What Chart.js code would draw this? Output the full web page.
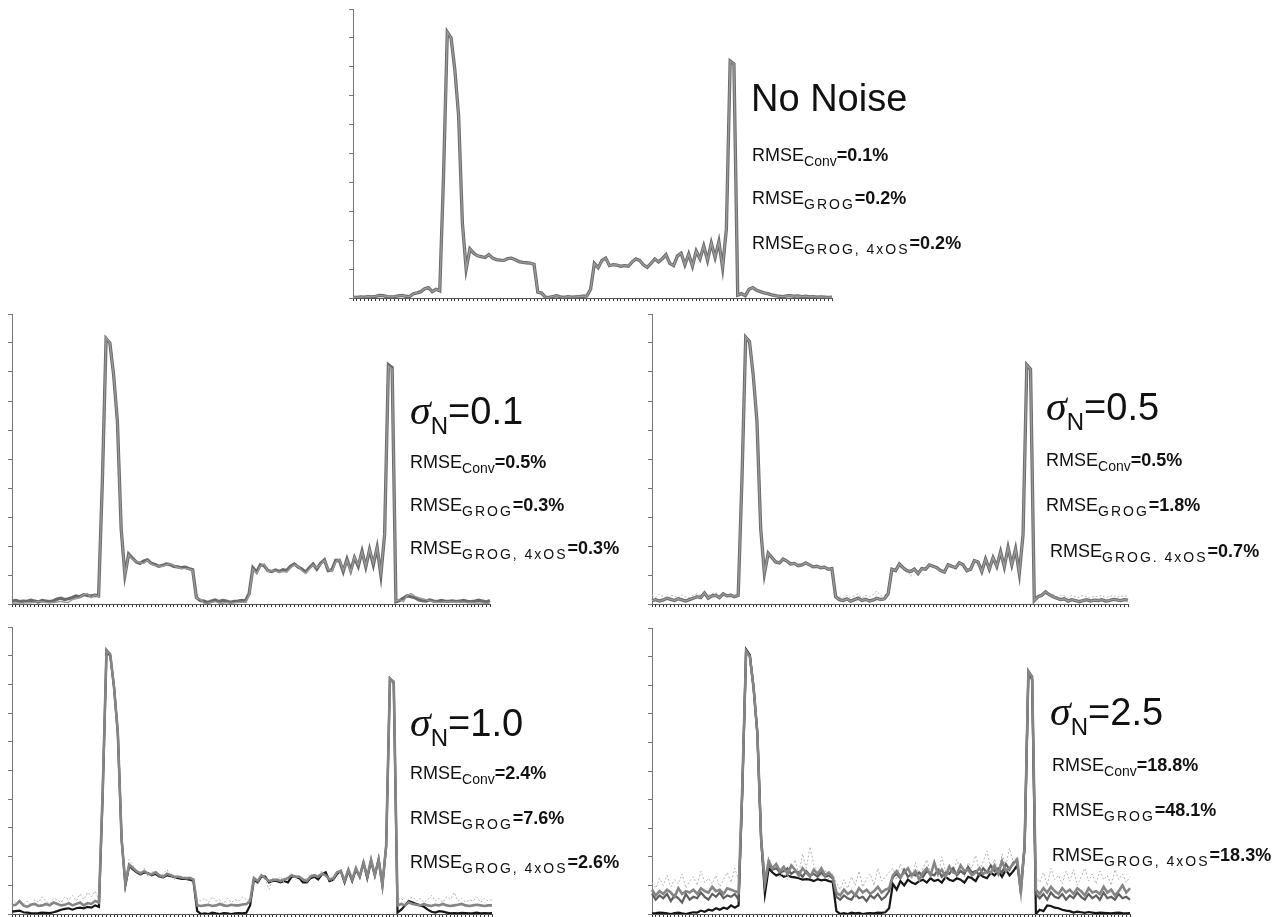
<!DOCTYPE html>
<html>
<head>
<meta charset="utf-8">
<script src="https://cdn.jsdelivr.net/npm/chart.js@4.4.1/dist/chart.umd.min.js"></script>
<style>
  body { margin: 0; background: #fff; width: 1283px; height: 917px; position: relative; overflow: hidden;
         font-family: "Liberation Sans", Arial, sans-serif; color: #111; }
  canvas { position: absolute; }
  .big { position: absolute; font-size: 38px; line-height: 1; white-space: nowrap; }
  .rm { position: absolute; font-size: 18px; line-height: 1; white-space: nowrap; }
  .rm b { font-weight: bold; }
  .sub { font-size: 14px; position: relative; top: 5px; }
  .sp { letter-spacing: 2px; }
  .sig { font-family: "Liberation Serif", serif; font-style: italic; font-size: 42px; }
  .nsub { font-size: 24px; position: relative; top: 10px; }
</style>
</head>
<body>

<canvas id="cNo"  width="485" height="293" style="left:349px;top:8px"></canvas>
<canvas id="c01"  width="484" height="294" style="left:8px;top:313px"></canvas>
<canvas id="c05"  width="482" height="294" style="left:648px;top:313px"></canvas>
<canvas id="c10"  width="486" height="291" style="left:8px;top:626px"></canvas>
<canvas id="c25"  width="484" height="290" style="left:648px;top:627px"></canvas>

<div class="big" style="left:751px;top:79px">No Noise</div>
<div class="rm" style="left:752px;top:146px">RMSE<span class="sub">Conv</span><b>=0.1%</b></div>
<div class="rm" style="left:752px;top:189px">RMSE<span class="sub sp">GROG</span><b>=0.2%</b></div>
<div class="rm" style="left:752px;top:234px">RMSE<span class="sub sp">GROG, 4xOS</span><b>=0.2%</b></div>

<div class="big" style="left:410px;top:389px"><span class="sig">σ</span><span class="nsub">N</span>=0.1</div>
<div class="rm" style="left:410px;top:453px">RMSE<span class="sub">Conv</span><b>=0.5%</b></div>
<div class="rm" style="left:410px;top:496px">RMSE<span class="sub sp">GROG</span><b>=0.3%</b></div>
<div class="rm" style="left:410px;top:539px">RMSE<span class="sub sp">GROG, 4xOS</span><b>=0.3%</b></div>

<div class="big" style="left:1046px;top:385px"><span class="sig">σ</span><span class="nsub">N</span>=0.5</div>
<div class="rm" style="left:1046px;top:451px">RMSE<span class="sub">Conv</span><b>=0.5%</b></div>
<div class="rm" style="left:1046px;top:496px">RMSE<span class="sub sp">GROG</span><b>=1.8%</b></div>
<div class="rm" style="left:1050px;top:542px">RMSE<span class="sub sp">GROG. 4xOS</span><b>=0.7%</b></div>

<div class="big" style="left:410px;top:701px"><span class="sig">σ</span><span class="nsub">N</span>=1.0</div>
<div class="rm" style="left:410px;top:764px">RMSE<span class="sub">Conv</span><b>=2.4%</b></div>
<div class="rm" style="left:410px;top:809px">RMSE<span class="sub sp">GROG</span><b>=7.6%</b></div>
<div class="rm" style="left:410px;top:853px">RMSE<span class="sub sp">GROG, 4xOS</span><b>=2.6%</b></div>

<div class="big" style="left:1050px;top:690px"><span class="sig">σ</span><span class="nsub">N</span>=2.5</div>
<div class="rm" style="left:1052px;top:756px">RMSE<span class="sub">Conv</span><b>=18.8%</b></div>
<div class="rm" style="left:1052px;top:801px">RMSE<span class="sub sp">GROG</span><b>=48.1%</b></div>
<div class="rm" style="left:1052px;top:846px">RMSE<span class="sub sp">GROG, 4xOS</span><b>=18.3%</b></div>

<script>
// perfiles de intensidad (128 muestras, eje y 0..10)
const truth = [
  0.03,0.02,0.04,0.03,0.05,0.04,0.06,0.09,0.08,0.05,0.04,0.05,0.07,0.09,0.06,0.05,
  0.15,0.18,0.22,0.32,0.36,0.22,0.30,0.25,4.2,9.2,9.0,7.9,6.3,2.6,1.0,1.7,
  1.55,1.46,1.43,1.40,1.50,1.38,1.33,1.31,1.30,1.36,1.38,1.32,1.26,1.23,1.22,1.21,
  1.16,0.20,0.17,0.03,0.02,0.05,0.08,0.04,0.02,0.05,0.03,0.04,0.05,0.06,0.07,0.30,
  1.20,1.05,1.30,1.38,1.12,1.15,1.14,1.10,1.12,1.10,1.25,1.35,1.30,1.15,1.06,1.20,
  1.35,1.25,1.36,1.50,1.20,1.12,1.45,1.55,1.15,1.52,1.10,1.62,1.35,1.80,1.30,1.90,
  1.40,1.95,1.05,2.40,8.2,8.1,0.10,0.15,0.08,0.30,0.36,0.27,0.22,0.18,0.15,0.11,
  0.08,0.06,0.05,0.07,0.08,0.06,0.07,0.05,0.06,0.04,0.05,0.03,0.04,0.03,0.02,0.03
];

const s01 = [
  0.10,0.12,0.08,0.10,0.09,0.13,0.10,0.07,0.12,0.10,0.08,0.11,0.17,0.20,0.15,0.18,
  0.22,0.28,0.25,0.32,0.30,0.27,0.30,0.28,4.2,9.15,9.0,7.9,6.3,2.6,1.0,1.72,
  1.58,1.45,1.40,1.48,1.52,1.40,1.36,1.30,1.33,1.38,1.36,1.30,1.28,1.25,1.27,1.22,
  1.18,0.22,0.12,0.10,0.05,0.10,0.14,0.08,0.12,0.10,0.06,0.09,0.10,0.12,0.10,0.35,
  1.25,1.10,1.35,1.32,1.15,1.12,1.17,1.12,1.18,1.15,1.30,1.38,1.28,1.20,1.10,1.25,
  1.38,1.20,1.40,1.52,1.15,1.18,1.50,1.50,1.12,1.55,1.15,1.60,1.30,1.82,1.28,1.88,
  1.35,1.95,1.00,2.40,8.25,8.15,0.08,0.12,0.20,0.28,0.25,0.22,0.15,0.12,0.10,0.14,
  0.10,0.08,0.12,0.10,0.09,0.11,0.08,0.10,0.12,0.09,0.08,0.10,0.13,0.10,0.07,0.12
];

const s05Conv = [
  0.12,0.15,0.10,0.14,0.20,0.16,0.12,0.18,0.14,0.10,0.15,0.20,0.25,0.22,0.38,0.20,
  0.28,0.30,0.22,0.35,0.28,0.30,0.25,0.30,4.3,9.2,9.05,7.9,6.3,2.6,1.05,1.75,
  1.60,1.45,1.42,1.55,1.48,1.38,1.40,1.32,1.35,1.42,1.35,1.28,1.30,1.25,1.27,1.20,
  1.22,0.25,0.15,0.12,0.18,0.10,0.15,0.20,0.12,0.16,0.10,0.14,0.20,0.15,0.18,0.35,
  1.20,1.15,1.38,1.25,1.15,1.12,1.20,1.05,1.22,1.20,1.35,1.30,1.25,1.15,1.10,1.35,
  1.30,1.25,1.42,1.35,1.15,1.20,1.50,1.45,1.12,1.55,1.20,1.60,1.30,1.80,1.28,1.95,
  1.35,1.90,1.05,2.40,8.25,8.1,0.12,0.25,0.30,0.42,0.32,0.25,0.20,0.15,0.18,0.10,
  0.15,0.12,0.08,0.12,0.15,0.10,0.13,0.12,0.15,0.10,0.12,0.16,0.14,0.12,0.15,0.13
];

const s05Grog = [
  0.30,0.22,0.35,0.25,0.18,0.30,0.28,0.20,0.32,0.25,0.22,0.30,0.35,0.30,0.42,0.30,
  0.35,0.40,0.30,0.38,0.32,0.35,0.30,0.35,4.3,9.1,9.0,7.9,6.3,2.6,1.1,1.7,
  1.55,1.50,1.38,1.50,1.45,1.35,1.42,1.30,1.32,1.40,1.38,1.25,1.32,1.22,1.30,1.18,
  1.25,0.35,0.25,0.20,0.30,0.22,0.28,0.35,0.20,0.30,0.25,0.32,0.45,0.28,0.30,0.40,
  1.15,1.20,1.30,1.22,1.20,0.95,1.25,1.10,1.20,1.25,1.30,1.32,1.20,1.18,1.15,1.30,
  1.25,1.30,1.35,1.40,1.20,1.25,1.45,1.40,1.20,1.50,1.25,1.55,1.35,1.75,1.30,1.90,
  1.40,1.85,1.10,2.35,8.2,8.0,0.20,0.30,0.35,0.40,0.30,0.35,0.25,0.30,0.28,0.20,
  0.30,0.25,0.22,0.30,0.25,0.20,0.28,0.25,0.30,0.22,0.25,0.30,0.22,0.28,0.25,0.30
];

const s10Gray = [
  0.30,0.32,0.45,0.30,0.25,0.32,0.35,0.28,0.30,0.35,0.30,0.40,0.35,0.30,0.32,0.38,
  0.30,0.35,0.40,0.30,0.38,0.35,0.45,0.40,4.3,9.2,9.05,7.9,6.3,2.6,1.05,1.72,
  1.60,1.48,1.42,1.50,1.40,1.38,1.45,1.35,1.30,1.40,1.35,1.30,1.30,1.26,1.25,1.25,
  1.20,0.30,0.28,0.30,0.32,0.28,0.30,0.35,0.30,0.28,0.32,0.30,0.30,0.33,0.35,0.45,
  1.25,1.15,1.35,1.25,1.15,1.18,1.20,1.15,1.20,1.25,1.35,1.30,1.30,1.20,1.15,1.30,
  1.35,1.30,1.40,1.35,1.20,1.25,1.45,1.50,1.15,1.55,1.20,1.60,1.30,1.80,1.30,1.90,
  1.35,1.90,1.00,2.40,8.2,8.1,0.30,0.35,0.30,0.40,0.35,0.32,0.30,0.35,0.30,0.28,
  0.32,0.30,0.35,0.30,0.28,0.30,0.32,0.35,0.30,0.28,0.30,0.32,0.30,0.28,0.30,0.30
];

const s10Black = [
  0.08,0.10,0.12,0.06,0.05,0.03,0.02,0.03,0.05,0.04,0.03,0.06,0.10,0.15,0.18,0.20,
  0.15,0.20,0.22,0.20,0.25,0.22,0.30,0.25,4.2,9.15,9.0,7.9,6.3,2.6,1.0,1.68,
  1.55,1.45,1.38,1.45,1.42,1.35,1.40,1.30,1.28,1.35,1.32,1.28,1.25,1.22,1.22,1.20,
  1.15,0.10,0.00,0.02,0.00,0.05,0.02,0.00,0.03,0.02,0.00,0.02,0.03,0.02,0.04,0.30,
  1.20,1.10,1.30,1.30,1.10,1.15,1.15,1.10,1.15,1.10,1.30,1.30,1.25,1.10,1.10,1.25,
  1.30,1.20,1.38,1.45,1.15,1.20,1.40,1.50,1.10,1.50,1.15,1.55,1.30,1.78,1.25,1.85,
  1.35,1.90,1.00,2.35,8.2,8.05,0.05,0.15,0.30,0.45,0.40,0.35,0.30,0.25,0.15,0.08,
  0.05,0.10,0.08,0.05,0.02,0.03,0.02,0.04,0.03,0.02,0.03,0.05,0.02,0.03,0.02,0.03
];

const s10Dot = [
  0.55,0.40,0.50,0.35,0.45,0.30,0.50,0.40,0.60,0.45,0.35,0.55,0.50,0.40,0.60,0.50,
  0.65,0.45,0.70,0.50,0.75,0.60,0.80,0.50,4.3,9.1,9.0,7.9,6.3,2.6,1.2,1.9,
  1.70,1.50,1.35,1.60,1.30,1.45,1.50,1.25,1.40,1.55,1.30,1.20,1.35,1.30,1.20,1.30,
  1.25,0.50,0.45,0.55,0.40,0.60,0.45,0.50,0.35,0.55,0.40,0.50,0.45,0.60,0.50,0.50,
  1.30,1.00,1.40,1.20,0.85,1.25,1.15,1.30,1.10,1.25,1.40,1.20,1.35,1.15,1.25,1.40,
  1.30,1.35,1.50,1.30,1.25,1.10,1.50,1.40,1.20,1.60,1.25,1.55,1.35,1.85,1.35,1.85,
  1.40,1.90,1.10,2.30,8.2,8.0,0.50,0.55,0.40,0.50,0.60,0.45,0.55,0.40,0.50,0.65,
  0.45,0.55,0.40,0.60,0.50,0.75,0.45,0.55,0.40,0.50,0.45,0.60,0.40,0.55,0.45,0.50
];

const s25Black = [
  0.02,0.03,0.05,0.04,0.02,0.00,0.03,0.05,0.02,0.00,0.03,0.06,0.05,0.12,0.08,0.15,
  0.12,0.20,0.15,0.22,0.18,0.30,0.22,0.30,4.3,9.25,9.05,7.9,6.3,2.6,0.7,1.6,
  1.45,1.35,1.40,1.30,1.35,1.30,1.28,1.25,1.20,1.22,1.20,1.15,1.22,1.18,1.20,1.15,
  1.12,0.10,0.00,0.03,0.00,0.05,0.02,0.04,0.00,0.02,0.03,0.02,0.05,0.04,0.06,0.20,
  1.05,0.85,1.15,1.00,1.20,1.10,1.05,1.15,1.20,1.10,1.25,1.15,1.20,1.10,1.30,1.20,
  1.15,1.25,1.20,1.10,1.30,1.25,1.15,1.40,1.30,1.25,1.45,1.35,1.50,1.30,1.55,1.35,
  1.50,1.70,1.00,2.30,8.45,8.2,0.00,0.15,0.10,0.30,0.28,0.22,0.20,0.15,0.12,0.10,
  0.05,0.08,0.06,0.04,0.07,0.05,0.03,0.05,0.04,0.03,0.02,0.04,0.05,0.03,0.02,0.03
];

const s25Gray1 = [
  0.85,0.65,0.80,0.70,0.85,0.75,0.60,0.90,0.70,0.80,0.75,0.85,0.70,0.90,0.80,0.75,
  0.95,0.80,0.85,0.70,0.90,0.85,0.80,0.75,4.5,9.2,9.0,7.9,6.3,2.6,1.1,1.85,
  1.60,1.75,1.50,1.65,1.40,1.70,1.55,1.35,1.60,1.45,1.30,1.55,1.40,1.60,1.35,1.45,
  1.30,0.75,0.65,0.85,0.70,0.80,0.65,0.90,0.75,0.85,0.70,0.80,0.95,0.75,0.85,0.90,
  1.35,1.50,1.30,1.45,1.60,1.35,1.50,1.20,1.45,1.60,1.35,1.80,1.40,1.55,1.30,1.65,
  1.45,1.40,1.70,1.50,1.55,1.35,1.45,1.60,1.40,1.50,1.45,1.70,1.40,1.85,1.50,1.60,
  1.75,1.90,0.80,2.40,8.5,8.3,0.85,0.70,0.90,0.75,0.95,0.80,0.70,0.90,0.75,0.85,
  0.70,0.90,0.80,0.65,0.90,0.75,0.80,0.70,0.95,0.75,0.85,0.65,0.80,1.00,0.75,0.90
];

const s25Gray2 = [
  0.70,0.50,0.65,0.55,0.70,0.45,0.65,0.55,0.40,0.70,0.50,0.60,0.55,0.75,0.60,0.50,
  0.70,0.60,0.75,0.55,0.65,0.60,0.70,0.50,4.4,9.2,9.0,7.9,6.3,2.6,1.0,1.75,
  1.55,1.60,1.45,1.50,1.60,1.40,1.50,1.45,1.30,1.50,1.35,1.40,1.30,1.45,1.30,1.35,
  1.25,0.60,0.50,0.65,0.55,0.50,0.70,0.55,0.60,0.45,0.65,0.55,0.70,0.50,0.60,0.80,
  1.30,1.40,1.25,1.55,1.30,1.40,1.35,1.45,1.30,1.50,1.40,1.35,1.55,1.30,1.45,1.40,
  1.60,1.35,1.50,1.40,1.65,1.45,1.50,1.35,1.60,1.45,1.70,1.50,1.60,1.45,1.75,1.55,
  1.80,1.85,0.70,2.40,8.4,8.2,0.70,0.55,0.70,0.50,0.75,0.60,0.55,0.70,0.50,0.65,
  0.55,0.75,0.60,0.50,0.70,0.55,0.65,0.50,0.75,0.55,0.60,0.50,0.70,0.55,0.60,0.50
];

const s25Dot = [
  1.10,0.90,1.25,1.00,1.35,0.95,1.20,1.05,1.40,0.90,1.15,1.30,1.00,1.50,1.10,1.25,
  1.05,1.35,0.95,1.20,1.45,1.10,1.60,1.20,4.5,9.1,9.0,7.9,6.3,2.6,1.3,2.0,
  1.55,1.80,1.30,1.50,1.20,1.60,1.90,1.40,2.10,1.60,2.35,1.70,1.50,1.30,1.55,1.20,
  1.40,1.10,0.85,1.20,0.90,1.30,1.00,1.50,0.95,1.25,1.40,1.00,1.60,1.15,1.30,1.45,
  1.60,1.25,1.75,1.40,1.55,1.20,1.80,1.35,1.60,1.90,1.45,1.70,1.30,2.00,1.50,1.75,
  1.40,1.90,1.55,1.30,1.80,1.60,2.05,1.50,1.85,2.20,1.60,1.90,1.45,2.10,1.70,2.30,
  1.80,2.00,1.20,2.50,8.4,8.1,1.30,1.10,1.45,1.00,1.60,1.20,1.35,1.05,1.50,1.15,
  1.55,1.00,1.30,1.60,1.15,1.40,1.05,1.50,1.20,1.35,1.00,1.55,1.20,1.40,1.10,1.30
];

const muestras = truth.map((_, i) => i + 1);

// estilos de linea: el primero de cada lista queda encima
const NEGRO  = { color: '#151515', width: 2.2 };
const OSCURO = { color: '#5f5f5f', width: 2.2 };
const MEDIO  = { color: '#858585', width: 2.6 };
const CLARO  = { color: '#9a9a9a', width: 1.4 };
const BORDE  = { color: '#6a6a6a', width: 3.3 };
const PUNTOS = { color: '#b4b4b4', width: 1, dash: [2, 2] };

function serie(data, estilo) {
  return {
    data,
    borderColor: estilo.color,
    borderWidth: estilo.width,
    borderDash: estilo.dash || [],
    pointRadius: 0,
    tension: 0,
    fill: false
  };
}

function dibujarPanel(id, datasets) {
  new Chart(document.getElementById(id), {
    type: 'line',
    data: { labels: muestras, datasets },
    options: {
      responsive: false,
      animation: false,
      events: [],
      layout: { padding: { top: 1, right: 2, left: 0, bottom: 0 } },
      plugins: { legend: { display: false }, tooltip: { enabled: false } },
      scales: {
        x: {
          type: 'category',
          ticks: { display: false, autoSkip: false },
          grid: { drawOnChartArea: false, tickLength: 3, color: '#333', lineWidth: 1 },
          border: { color: '#555', width: 1 }
        },
        y: {
          min: 0, max: 10,
          ticks: { display: false, stepSize: 1 },
          grid: { drawOnChartArea: false, tickLength: 4, color: '#777', lineWidth: 1 },
          border: { color: '#777', width: 1 }
        }
      }
    }
  });
}

dibujarPanel('cNo', [serie(truth, CLARO), serie(truth, BORDE)]);
dibujarPanel('c01', [serie(truth, CLARO), serie(s01, BORDE)]);
dibujarPanel('c05', [serie(s05Conv, CLARO), serie(s05Conv, BORDE), serie(s05Grog, PUNTOS)]);
dibujarPanel('c10', [serie(s10Gray, MEDIO), serie(s10Dot, PUNTOS), serie(s10Black, NEGRO)]);
dibujarPanel('c25', [serie(s25Gray1, MEDIO), serie(s25Gray2, OSCURO), serie(s25Dot, PUNTOS), serie(s25Black, NEGRO)]);
</script>
</body>
</html>
